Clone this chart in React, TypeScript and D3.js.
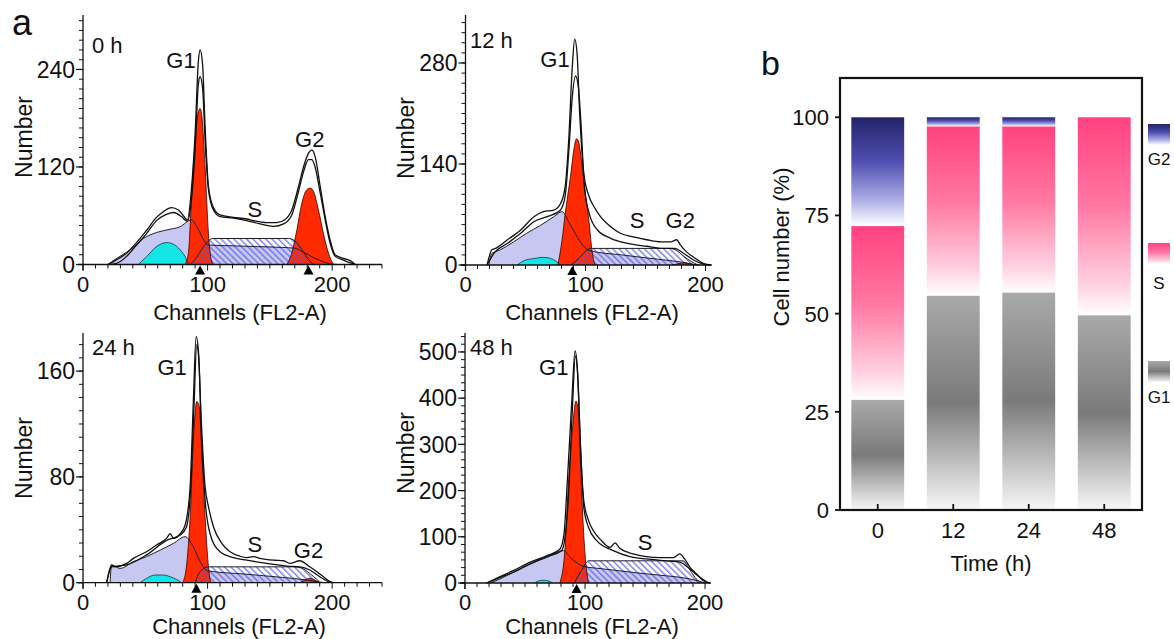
import React from 'react';
import * as d3 from 'd3';

type Pt = [number, number];

// ---------- Panel a : 0 h ----------
const raw0A: Pt[] = [[20,0],[25.7,4.7],[35,14],[43,27],[51,42],[59,58],[64.5,65],[71,70],[76.6,67],[80.6,60],[83.8,55],[87,92],[90,161],[92.6,250],[94,264],[96,246],[98,170],[100.7,96],[104.7,70],[110,61],[120.7,58],[131.5,56],[136.8,54],[147.5,51.5],[155.6,51.5],[162,55],[167.6,67],[173,96],[177,120],[181,137],[183.7,141],[186.3,133],[190.4,96],[194.4,59],[198.4,30],[202.4,12],[209,7.6],[214.5,4.7],[218.5,0]];
const raw0B: Pt[] = [[20,0],[27,1.4],[35,10],[43,24],[51,38],[59,54],[66,61],[72.6,64],[79,59],[83.8,53],[87,79],[90,141],[92.6,222],[94,231],[96,217],[98,153],[100.7,92],[104.7,67],[110,59],[120.7,57],[131.5,54],[142,50],[153,47],[161,50],[167.6,61],[173,90],[177,114],[181,129],[183.7,129],[186.3,120],[190.4,88],[194.4,55],[198.4,26],[202.4,10],[209,5.5],[215.8,1.4],[218.5,0]];
const debris0: Pt[] = [[20,0],[23,3.5],[29.7,10],[40.4,21],[48.5,32],[56.5,38],[67,42.5],[78,46.5],[87,55],[92,45],[97,30],[100,24],[120,23],[140,22],[160,21],[170,20],[176,16],[182,11],[190,5],[198,1],[204,0]];
const cyan0: Pt[] = [[44.4,0],[51,9.6],[59,22],[67,27],[72.6,25],[78,18],[82,9.6],[84.6,1.4],[86,0]];
const g1_0: Pt[] = [[82,0],[84.6,14],[87,79],[90,153],[92.6,188],[94,192],[95.3,184],[98,120],[100.7,38],[103,5.5],[104.7,0]];
const g2_0: Pt[] = [[163.6,0],[167.6,14],[171.6,42],[175.6,75],[179.6,92],[182.3,94],[185,90],[189,67],[193,38],[197,14],[201,0]];
const s0: Pt[] = [[86,0],[90,6],[95,18],[100,28],[104,32],[165,32],[170,29],[175,20],[180,8],[185,0]];
const marks0 = [94, 181];
const labels0: [string, number, number][] = [['G1', 78.7, 242], ['S', 138, 58.5], ['G2', 182, 144.6]];

// ---------- Panel a : 12 h ----------
const raw12A: Pt[] = [[18,0],[22,21],[25,23],[35,35],[46,48.5],[57,67],[65,74],[73.6,76],[79,84.5],[83,108],[86,173],[89,275],[91,313],[93,293],[95,215],[98.6,127],[103,95],[107,81],[112.5,67],[121,53],[129,44],[140,39],[151,35],[162.5,32],[171,32],[176,35],[179,28],[184,18.5],[191.7,9],[198.6,2],[205,0]];
const raw12B: Pt[] = [[18,0],[23.6,16],[35,30],[46,44],[57,60],[68,67],[79,76],[83,95],[86,155],[89,233],[91.7,262],[94,247],[96.4,192],[99,108.5],[103,72],[110,48.5],[121,37],[135,30],[151,26],[165,23],[174,23],[182,16],[190,7],[198.6,1],[204,0]];
const debris12: Pt[] = [[19.4,0],[22,16],[29,21],[40,32],[51,44],[62.5,55],[73.6,67],[80.5,74],[86,60],[92,42],[98,27],[103,20],[130,14],[160,8],[180,4],[190,1],[195,0]];
const cyan12: Pt[] = [[43,0],[48.6,6],[57,9],[65,10.6],[71,9],[76,4.6],[79,0]];
const g1_12: Pt[] = [[77,0],[80.5,35],[83,70],[87.5,123],[90.5,162],[92.5,175],[94,172],[98.6,117],[103,59],[105.5,19],[108,0]];
const g2_12: Pt[] = [[172,0],[178,2],[182,3],[186,2],[190,0]];
const s12: Pt[] = [[88,0],[95,10],[100,19],[104,23],[170,23],[176,20],[182,12],[188,5],[194,0]];
const marks12 = [89];
const labels12: [string, number, number][] = [['G1', 74.6, 274], ['S', 143, 51], ['G2', 179, 51]];

// ---------- Panel a : 24 h ----------
const raw24A: Pt[] = [[19,0],[23,13.4],[25.7,12],[35,14.6],[40.4,18.4],[51,23.4],[59,28.5],[67,33.5],[70,37],[72.6,33.5],[78,37],[82,43.6],[86,72.6],[88.6,138],[90.8,186],[92.6,176],[94.8,125.5],[98,72.6],[100.7,57.5],[104.7,42.3],[111.4,29.7],[118,23.4],[126,20],[131.5,19],[136.8,19.7],[142,18.4],[153,17],[161,16.6],[166,14.6],[174,16.6],[182,12],[187.7,8.3],[193,4.5],[198.4,0.8],[201,0]];
const raw24B: Pt[] = [[19,0],[23,12],[35,13.4],[51,21],[67,32],[78,36],[83,42],[86.5,72.6],[89,130.5],[91.3,180],[93,168],[95,113],[98,62.5],[102,37],[110,23.4],[120.7,19],[131.5,17],[147.5,14.6],[163.6,12.6],[174,12],[182,9.6],[190,4.5],[197,0.8],[199.7,0]];
const debris24: Pt[] = [[21.7,0],[23,13.4],[29.7,10.8],[40.4,15.9],[51,19.7],[62,24.7],[72.6,29.7],[82,34.8],[88,28],[94,16],[100,9],[130,6.5],[160,4],[180,2],[190,0.5],[195,0]];
const cyan24: Pt[] = [[45.8,0],[51,3.3],[57.8,5.8],[64.5,5.8],[70,4.5],[75,2.5],[79,0]];
const g1_24: Pt[] = [[80,0],[83,12],[86,50],[88.6,108],[91.3,137],[93.4,133],[95.3,100],[98,50],[100.7,12],[102.5,0]];
const g2_24: Pt[] = [[174,0],[178,2],[182,3.3],[186,2],[190,0]];
const s24: Pt[] = [[90,0],[94,8.3],[100.7,12],[169,12],[175.6,11],[182,7],[187.7,2.5],[190.4,0]];
const marks24 = [91];
const labels24: [string, number, number][] = [['G1', 71.5, 157], ['S', 138, 23], ['G2', 181, 18.6]];

// ---------- Panel a : 48 h ----------
const raw48A: Pt[] = [[18,0],[25,8.6],[40,26.6],[54,44.6],[68,59],[79,73],[82.5,106],[85,207],[89,394],[91.7,502],[93.6,466],[96,307],[99,178],[103,135],[107,113],[114,91],[121,77],[125,87],[129,75],[140,63],[151,57],[162.5,55],[173.6,55],[179,63],[183,52],[187.5,34],[193,19.4],[198.6,5],[204,0]];
const raw48B: Pt[] = [[18,0],[26,8.6],[40,23],[54,41],[68,57],[80.5,70],[83,93],[86,178],[89.4,372],[92,491],[94,446],[96.4,287],[99,163],[103,120],[110,91],[123.6,70],[137.5,57],[151,52],[168,48],[179,45],[187.5,30],[196,12],[203,0]];
const debris48: Pt[] = [[21,0],[29,8.6],[40,23],[54,41],[68,55],[82,70],[88,55],[94,42],[100,35],[110,32],[130,26],[150,20],[170,15],[185,10],[195,4],[200,0]];
const cyan48: Pt[] = [[58,0],[62,5],[66,6],[70,4],[73,0]];
const g1_48: Pt[] = [[79,0],[83,63],[86,207],[89.7,338],[92.5,394],[94.4,372],[97,207],[100,63],[103,0]];
const g2_48: Pt[] = [];
const s48: Pt[] = [[91,0],[97,27],[103,48],[182,48],[186,34],[191.7,12],[196,0]];
const marks48 = [93];
const labels48: [string, number, number][] = [['G1', 74, 450], ['S', 150, 71]];

// ---------- Panel b : stacked percentages ----------
const times = ['0', '12', '24', '48'];
const g1Pct = [28.1, 54.6, 55.4, 49.6];
const sPct = [44.2, 43.1, 42.3, 50.4];
const g2Pct = [27.7, 2.3, 2.3, 0];
const barTicks = [0, 25, 50, 75, 100];

const FONT = "'Liberation Sans', Arial, Helvetica, sans-serif";
const RED = '#ff2a00';

interface Panel {
  name: string; nameAt: Pt;
  x0: number; x1: number; xMax: number;
  yBase: number; yTop: number; yMax: number;
  yTicks: number[]; yMinor: number;
  titleX: number; titleY: number; numberX: number; numberY: number;
  raw: Pt[][]; debris: Pt[]; cyan: Pt[]; g1: Pt[]; g2: Pt[]; s: Pt[];
  marks: number[]; labels: [string, number, number][];
}

function Histogram({ p }: { p: Panel }) {
  const x = d3.scaleLinear().domain([0, p.xMax]).range([p.x0, p.x1]);
  const y = d3.scaleLinear().domain([0, p.yMax]).range([p.yBase, p.yTop]);
  const area = d3.area<Pt>().x(d => x(d[0])).y0(y(0)).y1(d => y(d[1])).curve(d3.curveMonotoneX);
  const line = d3.line<Pt>().x(d => x(d[0])).y(d => y(d[1])).curve(d3.curveMonotoneX);
  const xMinor = d3.range(0, p.xMax + 0.01, 10);
  const yMinor = d3.range(0, p.yMax, p.yMinor);
  const xMajor = [0, 100, 200];
  return (
    <g>
      <path d={area(p.debris) || ''} fill="#c7c8f1" />
      <path d={area(p.cyan) || ''} fill="#14e6e8" />
      <path d={area(p.g1) || ''} fill={RED} />
      {p.g2.length > 0 && <path d={area(p.g2) || ''} fill={RED} />}
      <path d={area(p.s) || ''} fill="url(#hatch)" />
      <path d={line(p.debris) || ''} fill="none" stroke="#1e1e2a" strokeWidth={1} />
      <path d={line(p.cyan) || ''} fill="none" stroke="#134" strokeWidth={0.8} />
      <path d={line(p.g1) || ''} fill="none" stroke="#300" strokeWidth={0.8} />
      {p.g2.length > 0 && <path d={line(p.g2) || ''} fill="none" stroke="#300" strokeWidth={0.8} />}
      <path d={line(p.s) || ''} fill="none" stroke="#1e1e2a" strokeWidth={1} />
      {p.raw.map((r, i) => (
        <path key={i} d={line(r) || ''} fill="none" stroke="#111" strokeWidth={1.3} />
      ))}
      {/* axes */}
      <line x1={x(0) - 5} x2={x(p.xMax)} y1={y(0)} y2={y(0)} stroke="#111" strokeWidth={1.3} />
      <line x1={x(0)} x2={x(0)} y1={y(0) + 6} y2={p.yTop} stroke="#111" strokeWidth={1.3} />
      {xMinor.map(v => (
        <line key={'xm' + v} x1={x(v)} x2={x(v)} y1={y(0)} y2={y(0) + (xMajor.includes(v) ? 6 : 4)} stroke="#111" strokeWidth={1} />
      ))}
      {yMinor.map(v => (
        <line key={'ym' + v} x1={x(0) - 4} x2={x(0)} y1={y(v)} y2={y(v)} stroke="#111" strokeWidth={1} />
      ))}
      {p.yTicks.map(v => (
        <g key={'yt' + v}>
          <line x1={x(0) - 7} x2={x(0)} y1={y(v)} y2={y(v)} stroke="#111" strokeWidth={1.2} />
          <text x={x(0) - 8} y={y(v)} dy="0.36em" textAnchor="end" fontSize={23} fontFamily={FONT} fill="#111">{v}</text>
        </g>
      ))}
      {xMajor.map(v => (
        <text key={'xt' + v} x={x(v)} y={y(0) + 27} textAnchor="middle" fontSize={22} fontFamily={FONT} fill="#111">{v}</text>
      ))}
      {p.marks.map(m => (
        <path key={'mk' + m} d={`M${x(m)},${y(0) + 1}L${x(m) + 5},${y(0) + 10}L${x(m) - 5},${y(0) + 10}Z`} fill="#000" />
      ))}
      <text x={x(p.nameAt[0])} y={y(p.nameAt[1])} fontSize={22} fontFamily={FONT} fill="#111">{p.name}</text>
      {p.labels.map(([t, c, v]) => (
        <text key={t} x={x(c)} y={y(v)} textAnchor="middle" fontSize={22} fontFamily={FONT} fill="#111">{t}</text>
      ))}
      <text x={p.titleX} y={p.titleY} textAnchor="middle" fontSize={22} fontFamily={FONT} fill="#111">Channels (FL2-A)</text>
      <text transform={`translate(${p.numberX},${p.numberY}) rotate(-90)`} dy="0.35em" textAnchor="middle" fontSize={23} fontFamily={FONT} fill="#111">Number</text>
    </g>
  );
}

function BarPanel() {
  const xb = d3.scaleBand<string>().domain(times).range([840, 1142]).paddingInner(0.3).paddingOuter(0.15);
  const yb = d3.scaleLinear().domain([0, 110]).range([510, 78]);
  const rows = times.map((t, i) => ({ t, G1: g1Pct[i], S: sPct[i], G2: g2Pct[i] }));
  const keys = ['G1', 'S', 'G2'];
  const series = d3.stack<any>().keys(keys)(rows);
  const grad: Record<string, string> = { G1: 'url(#gG1)', S: 'url(#gS)', G2: 'url(#gG2)' };
  const legend: [string, number, number][] = [['G2', 124, 165], ['S', 243, 289], ['G1', 361, 403]];
  return (
    <g>
      {series.map(s => s.map((d, i) => {
        const h = yb(d[0]) - yb(d[1]);
        if (h <= 0.01) return null;
        return <rect key={s.key + i} x={xb(rows[i].t)} y={yb(d[1])} width={xb.bandwidth()} height={h} fill={grad[s.key]} />;
      }))}
      <rect x={840} y={78} width={302} height={432} fill="none" stroke="#111" strokeWidth={2.2} />
      {times.map(t => (
        <g key={t}>
          <line x1={xb(t)! + xb.bandwidth() / 2} x2={xb(t)! + xb.bandwidth() / 2} y1={510} y2={504} stroke="#111" strokeWidth={1.8} />
          <text x={xb(t)! + xb.bandwidth() / 2} y={538} textAnchor="middle" fontSize={22} fontFamily={FONT} fill="#111">{t}</text>
        </g>
      ))}
      {barTicks.map(v => (
        <g key={v}>
          <line x1={835} x2={840} y1={yb(v)} y2={yb(v)} stroke="#111" strokeWidth={1.8} />
          <text x={829} y={yb(v)} dy="0.36em" textAnchor="end" fontSize={22} fontFamily={FONT} fill="#111">{v}</text>
        </g>
      ))}
      <text x={991} y={571} textAnchor="middle" fontSize={22} fontFamily={FONT} fill="#111">Time (h)</text>
      <text transform="translate(781,247) rotate(-90)" dy="0.35em" textAnchor="middle" fontSize={22} fontFamily={FONT} fill="#111">Cell number (%)</text>
      {legend.map(([k, top, base]) => (
        <g key={k}>
          <rect x={1148} y={top} width={22} height={21} fill={grad[k]} />
          <text x={1159} y={base} textAnchor="middle" fontSize={17} fontFamily={FONT} fill="#111">{k}</text>
        </g>
      ))}
    </g>
  );
}

export default function App() {
  const panels: Panel[] = [
    { name: '0 h', nameAt: [7.2, 260], x0: 83, x1: 382, xMax: 240, yBase: 264.5, yTop: 15, yMax: 307, yTicks: [0, 120, 240], yMinor: 12,
      titleX: 240, titleY: 320, numberX: 24, numberY: 137,
      raw: [raw0A, raw0B], debris: debris0, cyan: cyan0, g1: g1_0, g2: g2_0, s: s0, marks: marks0, labels: labels0 },
    { name: '12 h', nameAt: [3.75, 300.8], x0: 465.5, x1: 711.5, xMax: 205, yBase: 265, yTop: 15, yMax: 346.5, yTicks: [0, 140, 280], yMinor: 14,
      titleX: 592, titleY: 320, numberX: 406, numberY: 138,
      raw: [raw12A, raw12B], debris: debris12, cyan: cyan12, g1: g1_12, g2: g2_12, s: s12, marks: marks12, labels: labels12 },
    { name: '24 h', nameAt: [7.2, 172], x0: 83, x1: 382, xMax: 240, yBase: 582.7, yTop: 333, yMax: 188.8, yTicks: [0, 80, 160], yMinor: 10,
      titleX: 239, titleY: 634, numberX: 24, numberY: 458,
      raw: [raw24A, raw24B], debris: debris24, cyan: cyan24, g1: g1_24, g2: g2_24, s: s24, marks: marks24, labels: labels24 },
    { name: '48 h', nameAt: [4.2, 494], x0: 465, x1: 711, xMax: 205, yBase: 583, yTop: 333, yMax: 541, yTicks: [0, 100, 200, 300, 400, 500], yMinor: 100 / 6,
      titleX: 592, titleY: 634, numberX: 406, numberY: 453,
      raw: [raw48A, raw48B], debris: debris48, cyan: cyan48, g1: g1_48, g2: g2_48, s: s48, marks: marks48, labels: labels48 },
  ];
  return (
    <svg width={1174} height={639} viewBox="0 0 1174 639" style={{ position: 'absolute', left: 0, top: 0, background: '#fff' }}>
      <defs>
        <pattern id="hatch" patternUnits="userSpaceOnUse" width={4.5} height={4.5} patternTransform="rotate(-45)">
          <line x1={0.8} y1={0} x2={0.8} y2={4.5} stroke="#5858e2" strokeWidth={1.1} />
        </pattern>
        <linearGradient id="gG1" x1="0" y1="0" x2="0" y2="1">
          <stop offset="0" stopColor="#a9a9a9" />
          <stop offset="0.5" stopColor="#7a7a7a" />
          <stop offset="1" stopColor="#f7f7f7" />
        </linearGradient>
        <linearGradient id="gS" x1="0" y1="0" x2="0" y2="1">
          <stop offset="0" stopColor="#ff4280" />
          <stop offset="0.45" stopColor="#ff78a3" />
          <stop offset="0.85" stopColor="#ffd3e1" />
          <stop offset="1" stopColor="#ffffff" />
        </linearGradient>
        <linearGradient id="gG2" x1="0" y1="0" x2="0" y2="1">
          <stop offset="0" stopColor="#23236a" />
          <stop offset="0.4" stopColor="#4e4eb0" />
          <stop offset="0.75" stopColor="#aaaae4" />
          <stop offset="1" stopColor="#ffffff" />
        </linearGradient>
      </defs>
      <rect x={0} y={0} width={1174} height={639} fill="#fff" />
      <text x={12} y={35} fontSize={36} fontFamily={FONT} fill="#111">a</text>
      <text x={761} y={75} fontSize={34} fontFamily={FONT} fill="#111">b</text>
      {panels.map((p, i) => <Histogram key={i} p={p} />)}
      <BarPanel />
    </svg>
  );
}
